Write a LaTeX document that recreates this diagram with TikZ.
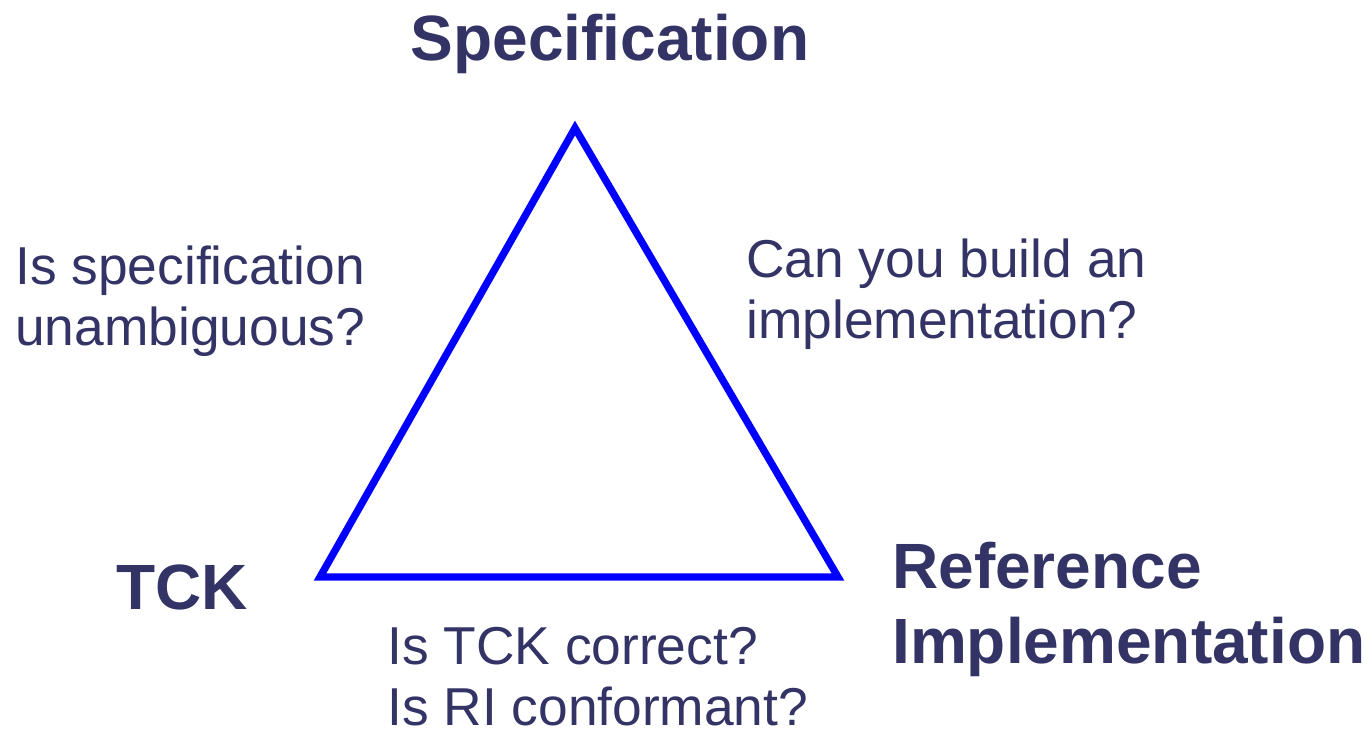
\documentclass[tikz,border=0pt]{standalone}
\usepackage{fontspec}
\setmainfont{Liberation Sans}
\usepackage{tikz}
\definecolor{navy}{RGB}{51,51,102}
\definecolor{triblue}{RGB}{0,0,255}

\begin{document}
\begin{tikzpicture}[x=0.75pt, y=-0.75pt,
    corner/.style={text=navy, font=\bfseries\fontsize{48}{56}\selectfont, inner sep=0pt, align=left},
    question/.style={text=navy, font=\fontsize{40}{45.5}\selectfont, inner sep=0pt, align=left},
    tri/.style={triblue, line width=5.5pt}]
        \useasboundingbox (0, 0) rectangle (1364, 729);

        \coordinate (S) at (575, 128);
        \coordinate (T) at (320, 577);
        \coordinate (R) at (838, 577);
        \draw[tri] (S) -- (R) -- (T) -- cycle;

        \node[corner, anchor=base] (spec) at (610, 60) {Specification};
        \node[corner, anchor=base west] (tck) at (116, 609) {TCK};
        \node[corner, anchor=base west] (ri) at (892, 663) {Reference\\Implementation};

        \node[question, anchor=base west] (q1) at (15, 345) {Is specification\\unambiguous?};
        \node[question, anchor=base west] (q2) at (746, 338) {Can you build an\\implementation?};
        \node[question, anchor=base west] (q3) at (387, 725) {Is TCK correct?\\Is RI conformant?};
\end{tikzpicture}
\end{document}
